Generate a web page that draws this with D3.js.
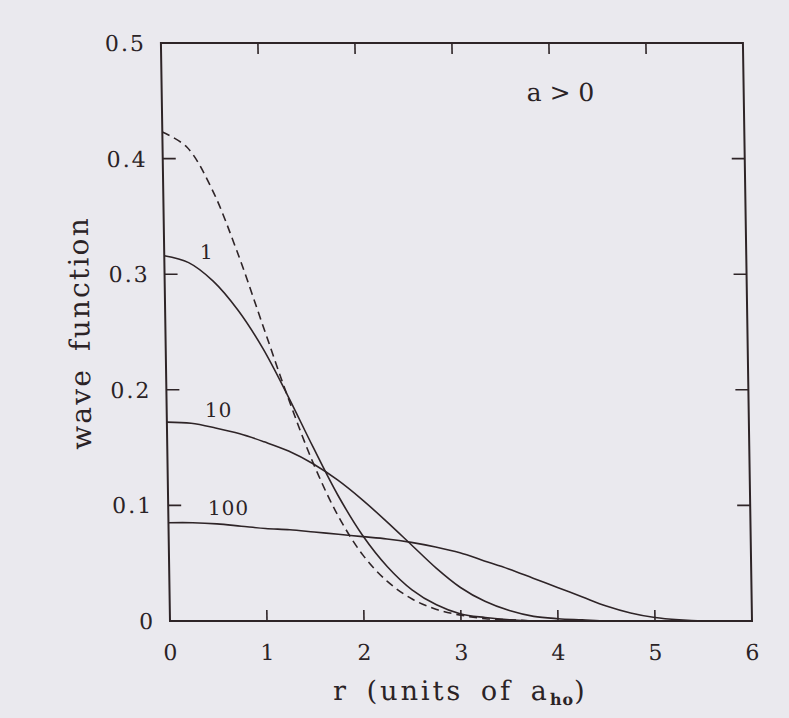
<!DOCTYPE html>
<html>
<head>
<meta charset="utf-8">
<script src="https://cdn.jsdelivr.net/npm/d3@7"></script>
<style>
  body { margin: 0; background: #eae9ee; }
  svg { display: block; }
  text { font-family: "DejaVu Serif", "Liberation Serif", serif; fill: #2b2326; }
</style>
</head>
<body>
<script>
// r values (units of a_ho) for each curve
var rIdeal = [0, 0.25, 0.5, 0.75, 1, 1.25, 1.5, 1.75, 2, 2.25, 2.5, 2.75, 3, 3.25, 3.5, 3.75];
var psiIdeal = [0.423, 0.410, 0.374, 0.320, 0.257, 0.194, 0.137, 0.091, 0.057, 0.034, 0.019, 0.010, 0.005, 0.002, 0.001, 0];

var r1 = [0, 0.25, 0.5, 0.75, 1, 1.25, 1.5, 1.75, 2, 2.25, 2.5, 2.75, 3, 3.25, 3.5, 3.75, 4];
var psi1 = [0.316, 0.310, 0.294, 0.269, 0.236, 0.195, 0.151, 0.109, 0.074, 0.047, 0.027, 0.014, 0.006, 0.003, 0.001, 0, 0];

var r10 = [0, 0.25, 0.5, 0.75, 1, 1.25, 1.5, 1.75, 2, 2.25, 2.5, 2.75, 3, 3.25, 3.5, 3.75, 4, 4.25, 4.5, 4.75];
var psi10 = [0.172, 0.171, 0.167, 0.162, 0.155, 0.147, 0.136, 0.122, 0.105, 0.086, 0.066, 0.046, 0.029, 0.017, 0.009, 0.004, 0.002, 0.001, 0, 0];

var r100 = [0, 0.25, 0.5, 0.75, 1, 1.25, 1.5, 1.75, 2, 2.25, 2.5, 2.75, 3, 3.25, 3.5, 3.75, 4, 4.25, 4.5, 4.75, 5, 5.25, 5.5, 5.6];
var psi100 = [0.085, 0.085, 0.084, 0.082, 0.080, 0.079, 0.077, 0.075, 0.073, 0.071, 0.068, 0.064, 0.059, 0.052, 0.045, 0.037, 0.029, 0.021, 0.013, 0.007, 0.003, 0.001, 0, 0];

var curveLabels = ['1', '10', '100'];
var labelPos = [[0.367, 0.313], [0.394, 0.1765], [0.409, 0.0917]];

var xTicks = [0, 1, 2, 3, 4, 5, 6];
var yTicks = [0, 0.1, 0.2, 0.3, 0.4, 0.5];

var width = 789, height = 718;
var plotW = 582, plotH = 578;
var color = '#2e2427';

var svg = d3.select('body').append('svg')
  .attr('width', width)
  .attr('height', height);

// the page in the photo leans a little, so the frame is skewed
var g = svg.append('g')
  .attr('transform', 'translate(170,621) skewX(0.9)');

var x = d3.scaleLinear().domain([0, 6]).range([0, plotW]);
var y = d3.scaleLinear().domain([0, 0.5]).range([0, -plotH]);

// frame
g.append('rect')
  .attr('x', 0).attr('y', -plotH)
  .attr('width', plotW).attr('height', plotH)
  .attr('fill', 'none')
  .attr('stroke', color)
  .attr('stroke-width', 2);

var tickLen = 11;
var innerX = xTicks.slice(1, -1);
var innerY = yTicks.slice(1, -1);

// bottom + top ticks
g.selectAll('.xt').data(innerX).enter().append('line')
  .attr('x1', d => x(d)).attr('x2', d => x(d))
  .attr('y1', 0).attr('y2', -tickLen)
  .attr('stroke', color).attr('stroke-width', 1.6);
g.selectAll('.xtt').data(innerX).enter().append('line')
  .attr('x1', d => x(d)).attr('x2', d => x(d))
  .attr('y1', -plotH).attr('y2', -plotH + tickLen)
  .attr('stroke', color).attr('stroke-width', 1.6);

// left + right ticks
g.selectAll('.yt').data(innerY).enter().append('line')
  .attr('x1', 0).attr('x2', tickLen + 2)
  .attr('y1', d => y(d)).attr('y2', d => y(d))
  .attr('stroke', color).attr('stroke-width', 1.6);
g.selectAll('.ytr').data(innerY).enter().append('line')
  .attr('x1', plotW).attr('x2', plotW - tickLen - 2)
  .attr('y1', d => y(d)).attr('y2', d => y(d))
  .attr('stroke', color).attr('stroke-width', 1.6);

// tick labels
g.selectAll('.xl').data(xTicks).enter().append('text')
  .attr('x', d => x(d)).attr('y', 39)
  .attr('text-anchor', 'middle')
  .attr('font-size', 22)
  .text(d => d);
g.selectAll('.yl').data(yTicks).enter().append('text')
  .attr('x', -15).attr('y', d => y(d))
  .attr('dy', '0.36em')
  .attr('text-anchor', 'end')
  .attr('font-size', 22)
  .attr('letter-spacing', 2)
  .text(d => d === 0 ? '0' : d3.format('.1f')(d));

// curves
var line = d3.line()
  .x(d => x(d[0]))
  .y(d => y(d[1]))
  .curve(d3.curveCatmullRom.alpha(0.5));

var series = [
  { r: rIdeal, v: psiIdeal, dash: '8,5' },
  { r: r1, v: psi1, dash: null },
  { r: r10, v: psi10, dash: null },
  { r: r100, v: psi100, dash: null }
];

g.selectAll('.curve').data(series).enter().append('path')
  .attr('d', s => line(s.r.map((r, i) => [r, s.v[i]])))
  .attr('fill', 'none')
  .attr('stroke', color)
  .attr('stroke-width', 1.6)
  .attr('stroke-dasharray', s => s.dash);

g.selectAll('.cl').data(curveLabels).enter().append('text')
  .attr('x', (d, i) => x(labelPos[i][0]))
  .attr('y', (d, i) => y(labelPos[i][1]))
  .attr('font-size', 20)
  .attr('letter-spacing', 1)
  .text(d => d);

// annotation
g.append('text')
  .attr('x', x(4.46)).attr('y', y(0.45))
  .attr('text-anchor', 'end')
  .attr('font-size', 25)
  .text('a > 0');

// axis titles
var xt = g.append('text')
  .attr('x', 162).attr('y', 79)
  .attr('font-size', 27)
  .attr('letter-spacing', 3)
  .attr('word-spacing', 6);
xt.append('tspan').text('r (units of a');
xt.append('tspan').attr('font-size', 16).attr('font-weight', 'bold')
  .attr('letter-spacing', 1).attr('dy', 5).text('ho');
xt.append('tspan').attr('dy', -5).text(')');

g.append('text')
  .attr('transform', 'translate(-76,' + (-plotH / 2 + 1) + ') rotate(-90)')
  .attr('text-anchor', 'middle')
  .attr('font-size', 28)
  .attr('letter-spacing', 2.2)
  .attr('word-spacing', 6)
  .text('wave function');
</script>
</body>
</html>
